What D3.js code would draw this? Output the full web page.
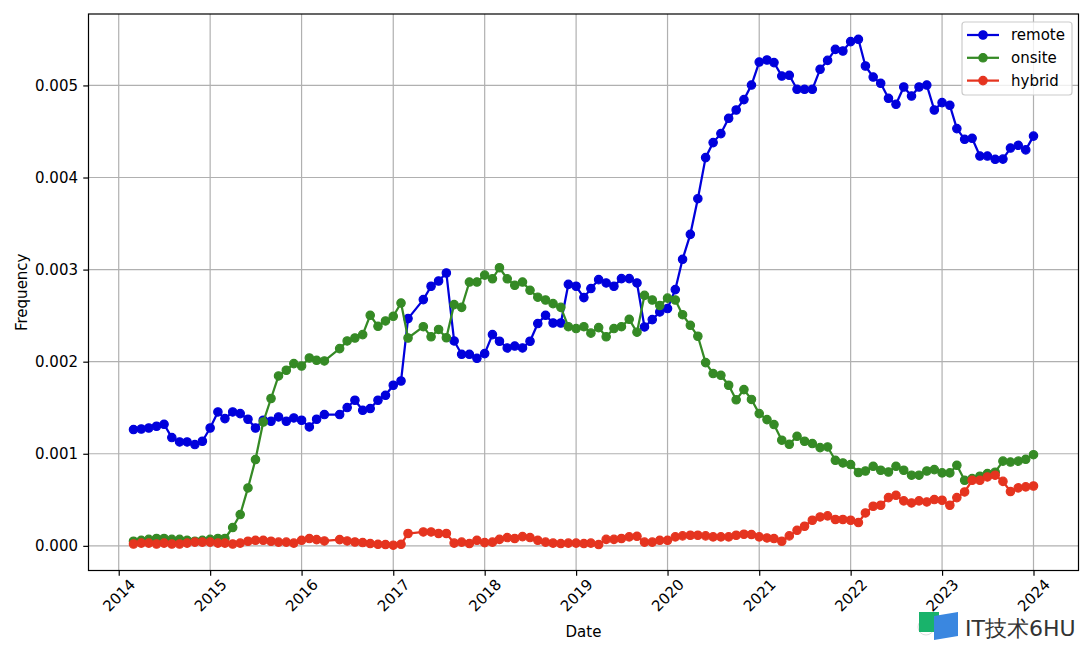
<!DOCTYPE html>
<html><head><meta charset="utf-8">
<script src="https://cdn.jsdelivr.net/npm/d3@7"></script>
<style>body{margin:0;background:#fff}svg{display:block}text{font-family:"DejaVu Sans",sans-serif}</style>
</head><body><svg id="chart" width="1080" height="645"></svg>
<script>
// ---- data (monthly; 2016-05 and 2017-04 absent from the source) ----
const dates = [
"2014-03","2014-04","2014-05","2014-06","2014-07","2014-08","2014-09","2014-10","2014-11","2014-12",
"2015-01","2015-02","2015-03","2015-04","2015-05","2015-06","2015-07","2015-08","2015-09","2015-10","2015-11","2015-12",
"2016-01","2016-02","2016-03","2016-04","2016-06","2016-07","2016-08","2016-09","2016-10","2016-11","2016-12",
"2017-01","2017-02","2017-03","2017-05","2017-06","2017-07","2017-08","2017-09","2017-10","2017-11","2017-12",
"2018-01","2018-02","2018-03","2018-04","2018-05","2018-06","2018-07","2018-08","2018-09","2018-10","2018-11","2018-12",
"2019-01","2019-02","2019-03","2019-04","2019-05","2019-06","2019-07","2019-08","2019-09","2019-10","2019-11","2019-12",
"2020-01","2020-02","2020-03","2020-04","2020-05","2020-06","2020-07","2020-08","2020-09","2020-10","2020-11","2020-12",
"2021-01","2021-02","2021-03","2021-04","2021-05","2021-06","2021-07","2021-08","2021-09","2021-10","2021-11","2021-12",
"2022-01","2022-02","2022-03","2022-04","2022-05","2022-06","2022-07","2022-08","2022-09","2022-10","2022-11","2022-12",
"2023-01","2023-02","2023-03","2023-04","2023-05","2023-06","2023-07","2023-08","2023-09","2023-10","2023-11","2023-12",
"2024-01"];

const remote = [
0.001263,0.001269,0.001280,0.001299,0.001320,0.001176,0.001128,0.001128,0.001100,0.001136,
0.001280,0.001454,0.001382,0.001454,0.001436,0.001375,0.001280,0.001364,0.001353,0.001400,0.001353,0.001389,
0.001364,0.001291,0.001375,0.001426,0.001426,0.001502,0.001581,0.001472,0.001491,0.001581,0.001635,
0.001744,0.001790,0.002468,0.002674,0.002819,0.002876,0.002963,0.002225,0.002080,0.002080,0.002037,
0.002088,0.002294,0.002222,0.002149,0.002170,0.002149,0.002222,0.002414,0.002504,0.002420,0.002420,0.002840,
0.002819,0.002696,0.002794,0.002891,0.002855,0.002819,0.002902,0.002902,0.002855,0.002377,0.002457,0.002540,
0.002577,0.002783,0.003112,0.003383,0.003770,0.004216,0.004379,0.004477,0.004643,0.004733,0.004846,0.005004,
0.005254,0.005276,0.005248,0.005102,0.005110,0.004958,0.004958,0.004958,0.005175,0.005272,0.005392,0.005374,
0.005476,0.005501,0.005211,0.005091,0.005023,0.004860,0.004795,0.004983,0.004885,0.004983,0.005004,0.004733,
0.004813,0.004784,0.004531,0.004415,0.004426,0.004233,0.004233,0.004198,0.004200,0.004320,0.004350,0.004300,
0.004450];

const onsite = [
0.00005,0.00006,0.00007,0.00008,0.00008,0.00007,0.00007,0.00006,0.00005,0.00006,
0.00007,0.00008,0.00008,0.000199,0.000340,0.000629,0.000937,0.001345,0.001600,0.001845,0.001907,0.001979,
0.001953,0.002040,0.002015,0.002008,0.002142,0.002225,0.002257,0.002294,0.002504,0.002384,0.002442,
0.002493,0.002637,0.002257,0.002380,0.002270,0.002350,0.002260,0.002620,0.002590,0.002865,0.002865,
0.002940,0.002900,0.003020,0.002900,0.002830,0.002865,0.002775,0.002700,0.002670,0.002630,0.002590,0.002380,
0.002360,0.002380,0.002310,0.002370,0.002270,0.002360,0.002380,0.002460,0.002320,0.002720,0.002670,0.002610,
0.002690,0.002670,0.002510,0.002395,0.002276,0.001990,0.001871,0.001852,0.001744,0.001586,0.001697,0.001590,
0.001436,0.001371,0.001317,0.001147,0.001103,0.001190,0.001136,0.001111,0.001067,0.001074,0.000929,0.000900,
0.000883,0.000796,0.000813,0.000864,0.000821,0.000802,0.000864,0.000821,0.000767,0.000767,0.000813,0.000828,
0.000792,0.000792,0.000875,0.000712,0.000731,0.000756,0.000785,0.000800,0.000920,0.000910,0.000920,0.000940,
0.000990];

const hybrid = [
0.00002,0.00003,0.00003,0.00002,0.00003,0.00002,0.00002,0.00003,0.00004,0.00004,
0.00004,0.00003,0.00003,0.00002,0.00003,0.00005,0.00006,0.00006,0.00005,0.00004,0.00004,0.00003,
0.00006,0.000079,0.000068,0.000053,0.000068,0.000053,0.000042,0.000036,0.000025,0.000017,0.000014,
0.000007,0.000017,0.000134,0.000151,0.000151,0.000134,0.000134,0.00003,0.00004,0.000025,0.00006,
0.000035,0.00004,0.00007,0.00009,0.00008,0.0001,0.00009,0.00006,0.00004,0.00003,0.000025,0.00003,
0.00003,0.000025,0.00003,0.000014,0.00007,0.00007,0.00008,0.000097,0.000104,0.00004,0.00004,0.00006,
0.00006,0.000097,0.000108,0.000115,0.000115,0.000108,0.000097,0.000097,0.000097,0.000115,0.000126,0.000123,
0.000097,0.000086,0.000079,0.00005,0.000108,0.000169,0.000213,0.000278,0.000314,0.000325,0.000286,0.000286,
0.000278,0.000253,0.000357,0.00043,0.000441,0.000524,0.000549,0.000488,0.000466,0.000488,0.000477,0.000503,
0.000495,0.000441,0.000524,0.000585,0.000712,0.000712,0.000748,0.000767,0.0007,0.00059,0.00063,0.00064,
0.00065];

const seriesNames = ["remote", "onsite", "hybrid"];
const yTickValues = [0, 0.001, 0.002, 0.003, 0.004, 0.005];
const xTickYears = ["2014","2015","2016","2017","2018","2019","2020","2021","2022","2023","2024"];
const xLabel = "Date";
const yLabel = "Frequency";
const watermark = "IT技术6HU";

// ---- styles ----
const colors = {remote: "#0000dc", onsite: "#358a25", hybrid: "#e5341f"};
const plot = {left: 88.5, right: 1078.5, top: 14, bottom: 570.5};

const svg = d3.select("#chart");
const parse = d3.timeParse("%Y-%m");
const xDates = dates.map(parse);
const seriesValues = {remote, onsite, hybrid};

// matplotlib-like 5% autoscale margins
const [t0, t1] = d3.extent(xDates);
const tpad = (t1 - t0) * 0.05;
const x = d3.scaleTime().domain([new Date(+t0 - tpad), new Date(+t1 + tpad)]).range([plot.left, plot.right]);
const allVals = [].concat(remote, onsite, hybrid);
const [v0, v1] = d3.extent(allVals);
const vpad = (v1 - v0) * 0.05;
const y = d3.scaleLinear().domain([v0 - vpad, v1 + vpad]).range([plot.bottom, plot.top]);

const xTicks = xTickYears.map(s => d3.timeParse("%Y")(s));

// grid
const grid = svg.append("g");
grid.selectAll("line.vx").data(xTicks).join("line")
  .attr("x1", d => x(d)).attr("x2", d => x(d)).attr("y1", plot.top).attr("y2", plot.bottom)
  .attr("stroke", "#b0b0b0").attr("stroke-width", 1.2);
grid.selectAll("line.hy").data(yTickValues).join("line")
  .attr("x1", plot.left).attr("x2", plot.right).attr("y1", d => y(d)).attr("y2", d => y(d))
  .attr("stroke", "#b0b0b0").attr("stroke-width", 1.2);

// series
const line = d3.line().x((d, i) => x(xDates[i])).y(d => y(d));
const clip = svg.append("defs").append("clipPath").attr("id", "clip")
  .append("rect").attr("x", plot.left).attr("y", plot.top)
  .attr("width", plot.right - plot.left).attr("height", plot.bottom - plot.top);
const plotG = svg.append("g");
seriesNames.forEach(name => {
  const vals = seriesValues[name];
  const g = plotG.append("g");
  g.append("path").datum(vals).attr("d", line).attr("fill", "none")
    .attr("stroke", colors[name]).attr("stroke-width", 2.25).attr("stroke-linejoin", "round");
  g.selectAll("circle").data(vals).join("circle")
    .attr("cx", (d, i) => x(xDates[i])).attr("cy", d => y(d)).attr("r", 4.2)
    .attr("fill", colors[name]).attr("stroke", colors[name]).attr("stroke-width", 1.2);
});

// axes
const yAxis = d3.axisLeft(y).tickValues(yTickValues).tickFormat(d3.format(".3f")).tickSize(5.25).tickPadding(5.25);
const gy = svg.append("g").attr("transform", `translate(${plot.left},0)`).call(yAxis);
gy.select(".domain").remove();
gy.selectAll(".tick line").attr("stroke", "#000").attr("stroke-width", 1.2);
gy.selectAll(".tick text").attr("font-size", 15).attr("font-family", "DejaVu Sans").attr("fill", "#000");

const xAxis = d3.axisBottom(x).tickValues(xTicks).tickFormat(d3.timeFormat("%Y")).tickSize(5.25);
const gx = svg.append("g").attr("transform", `translate(0,${plot.bottom})`).call(xAxis);
gx.select(".domain").remove();
gx.selectAll(".tick line").attr("stroke", "#000").attr("stroke-width", 1.2);
gx.selectAll(".tick text")
  .attr("font-size", 15).attr("font-family", "DejaVu Sans").attr("fill", "#000")
  .attr("text-anchor", "middle").attr("dy", null).attr("y", null)
  .attr("dominant-baseline", "central")
  .attr("transform", "translate(0,25) rotate(-45)");

// frame
svg.append("rect").attr("x", plot.left).attr("y", plot.top)
  .attr("width", plot.right - plot.left).attr("height", plot.bottom - plot.top)
  .attr("fill", "none").attr("stroke", "#000").attr("stroke-width", 1.2);

// labels
svg.append("text").attr("x", (plot.left + plot.right) / 2).attr("y", 637)
  .attr("text-anchor", "middle").attr("font-size", 15).text(xLabel);
svg.append("text").attr("transform", `translate(22,${(plot.top + plot.bottom) / 2}) rotate(-90)`)
  .attr("text-anchor", "middle").attr("dominant-baseline", "central").attr("font-size", 15).text(yLabel);

// legend
const lg = svg.append("g");
lg.append("rect").attr("x", 962).attr("y", 22).attr("width", 110).attr("height", 73).attr("rx", 3)
  .attr("fill", "#fff").attr("fill-opacity", 0.8).attr("stroke", "#cccccc").attr("stroke-width", 1.2);
seriesNames.forEach((name, i) => {
  const yy = 35 + i * 22.8;
  lg.append("line").attr("x1", 967).attr("x2", 999).attr("y1", yy).attr("y2", yy)
    .attr("stroke", colors[name]).attr("stroke-width", 2.25);
  lg.append("circle").attr("cx", 983).attr("cy", yy).attr("r", 4.2)
    .attr("fill", colors[name]).attr("stroke", colors[name]).attr("stroke-width", 1.2);
  lg.append("text").attr("x", 1011).attr("y", yy).attr("dominant-baseline", "central")
    .attr("font-size", 15).text(name);
});

// watermark
const wm = svg.append("g");
wm.append("circle").attr("cx", 926).attr("cy", 627).attr("r", 8).attr("fill", "none").attr("stroke", "#dddddd").attr("stroke-width", 1);
wm.append("rect").attr("x", 919).attr("y", 612).attr("width", 20).attr("height", 20).attr("fill", "#19b36b");
wm.append("path").attr("d", "M934,616 L958,612 L958,636 L934,640 Z").attr("fill", "#3a87e0");
wm.append("text").attr("x", 965).attr("y", 636).attr("font-family", "Noto Sans CJK SC")
  .attr("font-size", 22).attr("fill", "#333").text(watermark);
</script>
</body></html>
